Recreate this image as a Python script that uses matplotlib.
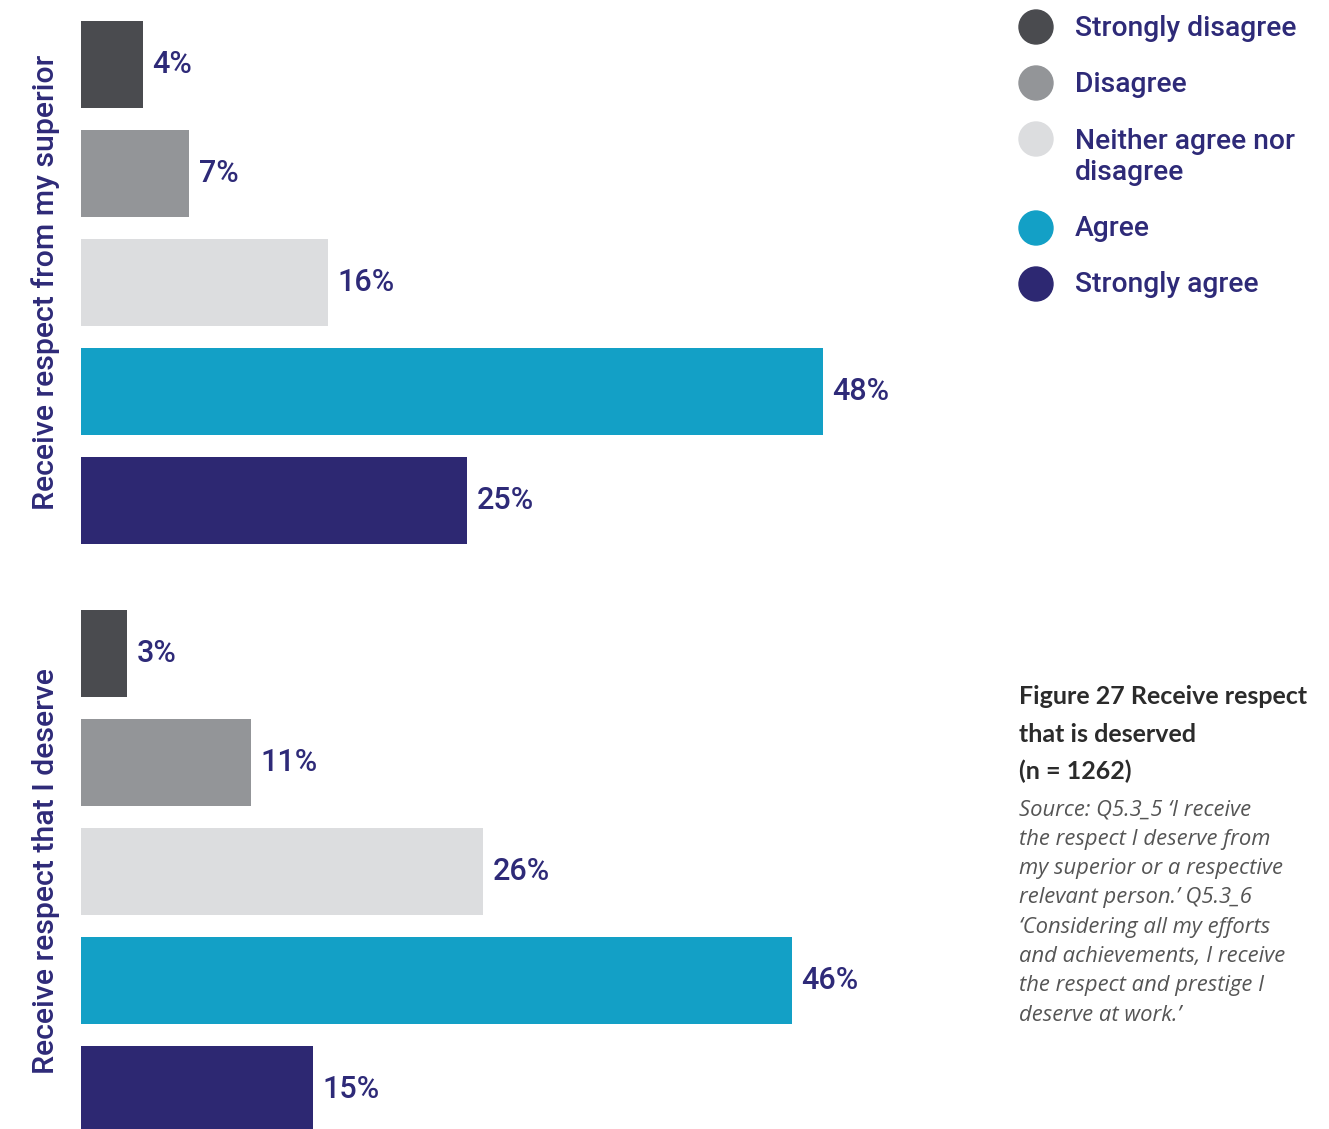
import matplotlib
matplotlib.use("Agg")
import matplotlib.pyplot as plt
from matplotlib.patches import Circle

# Response categories and shares (%)
categories = ["Strongly disagree", "Disagree", "Neither agree nor\ndisagree",
              "Agree", "Strongly agree"]
superior_pct = [4, 7, 16, 48, 25]
deserve_pct = [3, 11, 26, 46, 15]
group_titles = ["Receive respect from my superior", "Receive respect that I deserve"]

caption_bold = ["Figure 27 Receive respect", "that is deserved", "(n = 1262)"]
caption_src = ["Source: Q5.3_5 \u2018I receive",
               "the respect I deserve from",
               "my superior or a respective",
               "relevant person.\u2019 Q5.3_6",
               "\u2018Considering all my efforts",
               "and achievements, I receive",
               "the respect and prestige I",
               "deserve at work.\u2019"]

colors = ["#4a4b4f", "#939598", "#dcdddf", "#13a0c6", "#2d2872"]
navy = "#2e2a78"

W, H = 1329, 1129
fig = plt.figure(figsize=(W / 100, H / 100), dpi=100)

px_per_pct = 15.45
x0, x1 = 81, 1000
pitch = 109


def draw_group(top_px, values, title):
    h = 5 * pitch
    ax = fig.add_axes([x0 / W, 1 - (top_px + h) / H, (x1 - x0) / W, h / H])
    ax.set_xlim(0, (x1 - x0) / px_per_pct)
    ax.set_ylim(4.5, -0.5)
    ypos = range(len(values))
    ax.barh(ypos, values, height=87 / pitch, color=colors)
    for y, v in zip(ypos, values):
        ax.annotate(f"{v}%", (v, y), xytext=(7, 0), textcoords="offset points",
                    va="center", ha="left", fontsize=22, color=navy,
                    family="Roboto", weight="medium")
    ax.axis("off")
    fig.text(46 / W, 1 - (top_px + h / 2) / H, title, rotation=90,
             ha="center", va="center", fontsize=21.8, color=navy,
             family="Roboto", weight="medium")


draw_group(10, superior_pct, group_titles[0])
draw_group(599, deserve_pct, group_titles[1])

# overlay in pixel coordinates for legend and caption
ov = fig.add_axes([0, 0, 1, 1])
ov.set_xlim(0, W)
ov.set_ylim(H, 0)
ov.axis("off")

legend_y = [28, 84, 157, 229, 285]
circle_y = [27, 83, 139, 228, 284]
for lab, c, ty, cy in zip(categories, colors, legend_y, circle_y):
    ov.add_patch(Circle((1036, cy), 17, color=c))
    ov.text(1075, ty, lab, ha="left", va="center", fontsize=20.3, color=navy,
            family="Roboto", weight="medium", linespacing=1.2)

for i, line in enumerate(caption_bold):
    ov.text(1019, 697 + i * 37, line, ha="left", va="center", fontsize=18,
            color="#2b2b2b", family="Lato", weight="bold")
for i, line in enumerate(caption_src):
    ov.text(1019, 810 + i * 29.3, line, ha="left", va="center", fontsize=15.8,
            color="#555555", family="Open Sans", style="italic")

fig.savefig("out.png", dpi=100)
